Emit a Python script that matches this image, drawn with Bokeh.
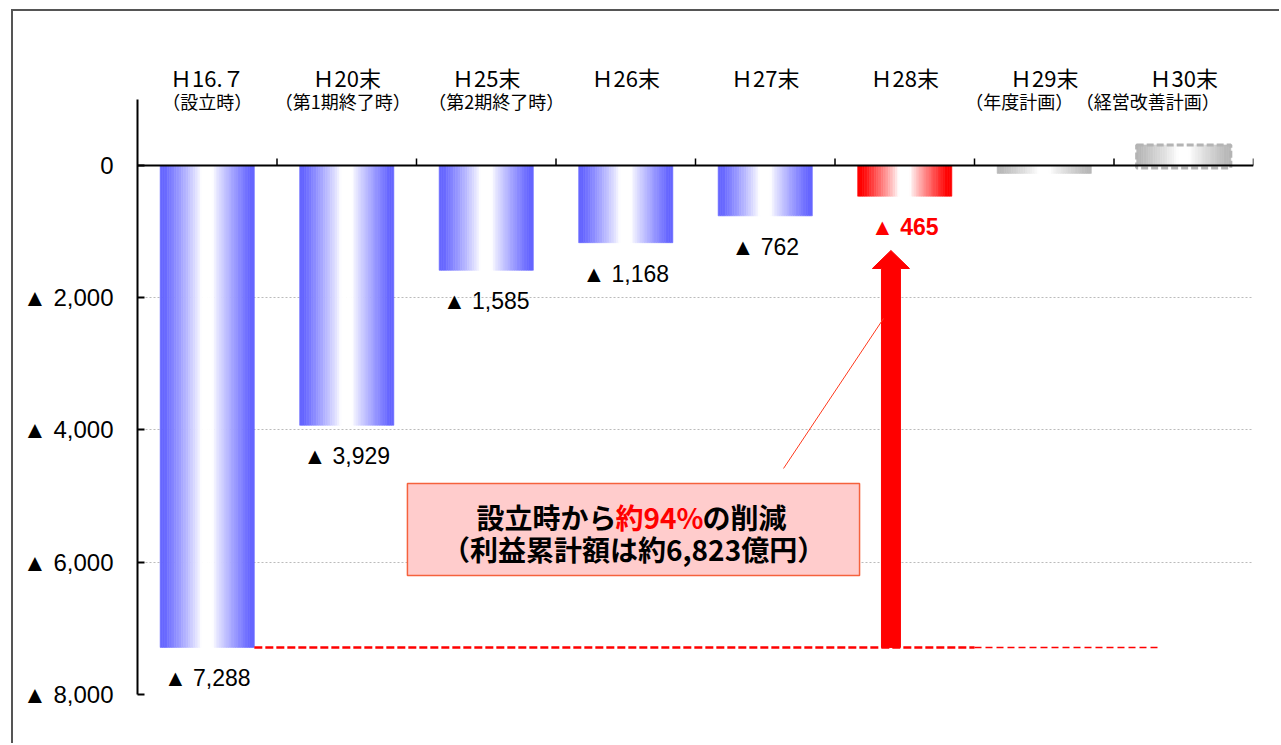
import numpy as np
from bokeh.plotting import figure
from bokeh.models import Range1d, FixedTicker, Span, Label, ColumnDataSource
from bokeh.core.properties import value
from bokeh.embed import file_html
from bokeh.resources import INLINE

# ---------------- data ----------------
CATEGORIES = ["Ｈ16.７", "Ｈ20末", "Ｈ25末", "Ｈ26末", "Ｈ27末", "Ｈ28末", "Ｈ29末", "Ｈ30末"]
SUBLABELS = ["（設立時）", "（第1期終了時）", "（第2期終了時）", "", "", "", "（年度計画）", "（経営改善計画）"]
VALUES = [-7288, -3929, -1585, -1168, -762, -465, -120, 310]
VALUE_LABELS = ["▲ 7,288", "▲ 3,929", "▲ 1,585", "▲ 1,168", "▲ 762", "▲ 465", "", ""]
BAR_KIND = ["actual", "actual", "actual", "actual", "actual", "latest", "plan", "plan_dashed"]
Y_TICKS = [0, -2000, -4000, -6000, -8000]
Y_TICK_LABELS = ["0", "▲ 2,000", "▲ 4,000", "▲ 6,000", "▲ 8,000"]
UNIT_LABEL = "（億円）"
CALLOUT_A = "設立時から"
CALLOUT_RED = "約94%"
CALLOUT_B = "の削減"
CALLOUT_LINE2 = "（利益累計額は約6,823億円）"

# ---------------- styles / layout ----------------
N = len(CATEGORIES)
BAR_W = 0.675
STRIPS = 40
EDGE = {"actual": (102, 102, 255), "latest": (255, 0, 0), "plan": (185, 185, 185), "plan_dashed": (185, 185, 185)}
SUB_DX = [0, -4, 10, 0, 0, 0, -25, -36]
HEADER_Y = 1331
SUB_Y = 968
JP = value("Noto Sans CJK JP")

p = figure(width=1268, height=734,
           x_range=Range1d(0, N), y_range=Range1d(-8000, 1905),
           x_axis_location=None,
           min_border_left=124, min_border_right=28, min_border_top=28, min_border_bottom=51,
           outline_line_color=None, output_backend="svg", toolbar_location=None)
p.styles = {"margin-left": "11px", "margin-top": "9px",
            "border-left": "2px solid #555555", "border-top": "2px solid #555555"}

# y axis
ax = p.yaxis[0]
ax.ticker = FixedTicker(ticks=Y_TICKS)
ax.major_label_overrides = {t: s for t, s in zip(Y_TICKS, Y_TICK_LABELS)}
ax.bounds = (-8000, 1000)
ax.axis_line_width = 2
ax.axis_line_color = "black"
ax.major_tick_in = 7
ax.major_tick_out = 0
ax.major_tick_line_width = 2
ax.minor_tick_line_color = None
ax.major_label_standoff = 24
ax.major_label_text_font = "Liberation Sans"
ax.major_label_text_font_size = "24px"
ax.major_label_text_color = "black"

p.xgrid.visible = False
p.ygrid.ticker = FixedTicker(ticks=[t for t in Y_TICKS if t != 0])
p.ygrid.grid_line_color = "#BBBBBB"
p.ygrid.grid_line_dash = "2 2"
p.ygrid.grid_line_width = 1

# gradient bars built from strips
L, R, T, B, C = [], [], [], [], []
for i, (v, kind) in enumerate(zip(VALUES, BAR_KIND)):
    left = i + 0.5 - BAR_W / 2
    er, eg, eb = EDGE[kind]
    for k in range(STRIPS):
        t = (k + 0.5) / STRIPS
        d = abs(t - 0.5) * 2
        f = min(max((d - 0.12) / 0.78, 0.0), 1.0) ** 0.85
        col = "#%02x%02x%02x" % (round(255 + (er - 255) * f), round(255 + (eg - 255) * f), round(255 + (eb - 255) * f))
        L.append(left + k * BAR_W / STRIPS)
        R.append(left + (k + 1) * BAR_W / STRIPS)
        T.append(max(v, 0))
        B.append(min(v, 0))
        C.append(col)
p.quad(left=L, right=R, top=T, bottom=B, fill_color=C, line_color=C, line_width=0.6)

# dashed outline for planned H30 bar
dash_idx = [i for i, k in enumerate(BAR_KIND) if k == "plan_dashed"]
p.quad(left=[i + 0.5 - BAR_W / 2 for i in dash_idx], right=[i + 0.5 + BAR_W / 2 for i in dash_idx],
       top=[VALUES[i] for i in dash_idx], bottom=[-40 for i in dash_idx],
       fill_color=None, line_color="#B4B4B4", line_width=3, line_dash="7 3")

# zero line + category ticks
p.add_layout(Span(location=0, dimension="width", line_color="black", line_width=2))
p.segment(x0=list(range(1, N + 1)), y0=[0] * N, x1=list(range(1, N + 1)), y1=[105] * N,
          line_color="black", line_width=1.5)

# value labels
lab_idx = [i for i, s in enumerate(VALUE_LABELS) if s]
src = ColumnDataSource(dict(
    x=[i + 0.5 for i in lab_idx], y=[VALUES[i] for i in lab_idx],
    t=[VALUE_LABELS[i] for i in lab_idx],
    c=["red" if BAR_KIND[i] == "latest" else "black" for i in lab_idx],
    w=["bold" if BAR_KIND[i] == "latest" else "normal" for i in lab_idx]))
p.text(x="x", y="y", text="t", source=src, text_color="c", text_font_style="w",
       text_font=value("Liberation Sans"), text_font_size="23px",
       text_align="center", text_baseline="middle", y_offset=31)

# headers
p.text(x=[i + 0.5 for i in range(N)], y=[HEADER_Y] * N, text=CATEGORIES,
       text_font=JP, text_font_size="22px", text_color="black",
       text_align="center", text_baseline="middle")
p.text(x=[i + 0.5 for i in range(N)], y=[SUB_Y] * N, text=SUBLABELS, x_offset=SUB_DX,
       text_font=JP, text_font_size="18px", text_color="black",
       text_align="center", text_baseline="middle")

p.add_layout(Label(x=-0.32, y=1300, text=UNIT_LABEL, text_font="Noto Sans CJK JP",
                   text_font_size="20px", text_color="black",
                   text_align="center", text_baseline="middle"))

# reference dashed line at the founding level
base = VALUES[0]
p.segment(x0=[0.5 + BAR_W / 2], y0=[base], x1=[6.0], y1=[base], line_color="red", line_width=2.5, line_dash="8 3")
p.segment(x0=[6.0], y0=[base], x1=[7.33], y1=[base], line_color="red", line_width=1.5, line_dash="7 4")

# big red arrow from founding level to H28 level
AX = 5.401
TIP = -1285
HEAD_BASE = -1558
SH = 0.068
HH = 0.133
p.patch(x=[AX - SH, AX - SH, AX - HH, AX, AX + HH, AX + SH, AX + SH],
        y=[base, HEAD_BASE, HEAD_BASE, TIP, HEAD_BASE, HEAD_BASE, base],
        fill_color="red", line_color="red", line_width=1)

# leader line
p.segment(x0=[4.631], y0=[-4582], x1=[5.348], y1=[-2314], line_color="#FF3B1F", line_width=1)

# callout box (glyph, so that the text sits on top of it)
p.quad(left=[1.935], right=[5.176], top=[-4809], bottom=[-6200],
       fill_color="#FFCCCC", fill_alpha=1.0, line_color="#F5623D", line_width=1.5)
RED_X = 3.742
L1_Y = -5323
L2_Y = -5807
CFS = "28px"
p.text(x=[RED_X], y=[L1_Y], text=[CALLOUT_A], x_offset=-43, text_align="right", text_baseline="middle",
       text_font=JP, text_font_style="bold", text_font_size=CFS, text_color="black")
p.text(x=[RED_X], y=[L1_Y], text=[CALLOUT_RED], text_align="center", text_baseline="middle",
       text_font=JP, text_font_style="bold", text_font_size=CFS, text_color="red")
p.text(x=[RED_X], y=[L1_Y], text=[CALLOUT_B], x_offset=43, text_align="left", text_baseline="middle",
       text_font=JP, text_font_style="bold", text_font_size=CFS, text_color="black")
p.text(x=[3.556], y=[L2_Y], text=[CALLOUT_LINE2], text_align="center", text_baseline="middle",
       text_font=JP, text_font_style="bold", text_font_size=CFS, text_color="black")

open("out.html", "w").write(file_html(p, INLINE))
